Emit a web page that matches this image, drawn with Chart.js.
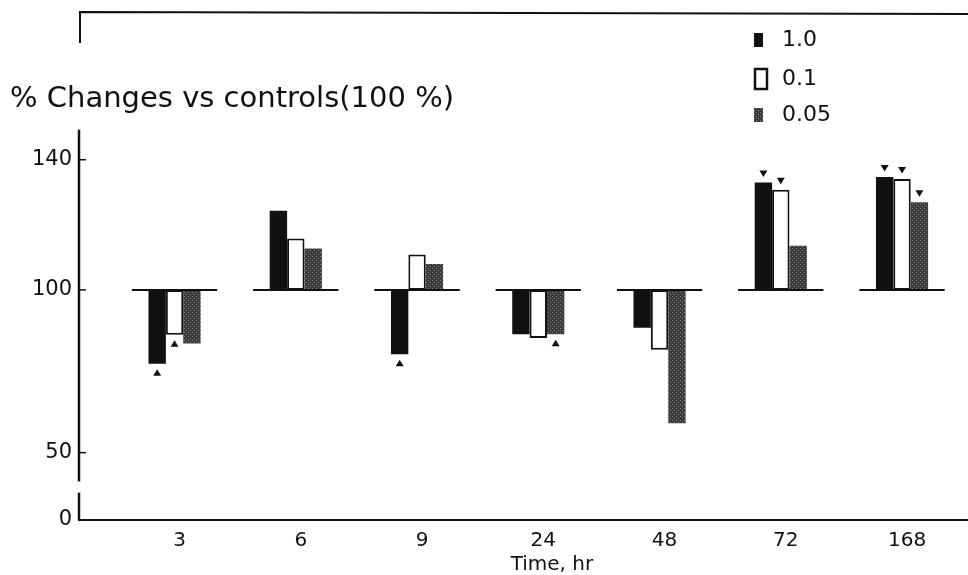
<!DOCTYPE html>
<html><head><meta charset="utf-8">
<script src="https://cdn.jsdelivr.net/npm/chart.js@4/dist/chart.umd.min.js"></script>
<style>html,body{margin:0;padding:0;background:#fff;}#wrap{width:968px;height:575px;}</style>
</head><body><div id="wrap"><canvas id="c" width="968" height="575"></canvas></div>
<script>
// ---- data ----
const categories = ['3', '6', '9', '24', '48', '72', '168'];
const seriesLabels = ['1.0', '0.1', '0.05'];
const values10  = [77.3, 124.3, 80.2, 86.4, 88.4, 133.0, 134.7];
const values01  = [86.2, 115.8, 110.9, 85.2, 81.6, 130.8, 134.1];
const values005 = [83.5, 112.7, 108.0, 86.4, 59.0, 113.6, 126.9];
const sig10  = [1, 0, 1, 0, 0, 1, 1];
const sig01  = [1, 0, 0, 0, 0, 1, 1];
const sig005 = [0, 0, 0, 1, 0, 0, 1];
const yTickValues = [50, 100, 140];
const yBreakLabel = '0';
const baseValue = 100;
const xTitle = 'Time, hr';
const yTitle = '% Changes vs controls(100 %)';

// ---- styles ----
const FONT = 'DejaVu Sans';
const INK = '#111111';
const canvas = document.getElementById('c');
const mainCtx = canvas.getContext('2d');
function stipple() {
  const c = document.createElement('canvas'); c.width = 4; c.height = 4;
  const g = c.getContext('2d');
  g.fillStyle = '#3a3a3a'; g.fillRect(0, 0, 4, 4);
  g.fillStyle = '#8a8a8a'; g.fillRect(0, 0, 1, 1); g.fillRect(2, 2, 1, 1);
  return mainCtx.createPattern(c, 'repeat');
}
const stip = stipple();

const toBars = vals => vals.map((v, i) => ({ x: i, y: [baseValue, v] }));
const seriesValues = [values10, values01, values005];
const seriesSig = [sig10, sig01, sig005];
const seriesFill = [INK, '#ffffff', stip];
const seriesBorder = [INK, INK, '#2a2a2a'];
const seriesBorderW = [0, 2, 0];

const decor = {
  id: 'decor',
  afterDatasetsDraw(chart) {
    const { ctx, chartArea: a, scales: { x, y } } = chart;
    ctx.save();
    // baseline segments at 100 per group
    ctx.strokeStyle = INK; ctx.lineWidth = 2;
    const y100 = y.getPixelForValue(baseValue);
    categories.forEach((c, i) => {
      ctx.beginPath();
      ctx.moveTo(x.getPixelForValue(i - 0.352), y100);
      ctx.lineTo(x.getPixelForValue(i + 0.352), y100);
      ctx.stroke();
    });
    // significance triangles, pointing toward the bar end
    ctx.fillStyle = INK;
    chart.data.datasets.forEach((ds, d) => {
      const meta = chart.getDatasetMeta(d);
      meta.data.forEach((bar, i) => {
        if (!seriesSig[d][i]) return;
        const v = seriesValues[d][i];
        const up = v >= baseValue;
        const end = y.getPixelForValue(v);
        const cx = bar.x;
        const cy = up ? end - 9 : end + 9;
        ctx.beginPath();
        if (up) { ctx.moveTo(cx - 4, cy - 3); ctx.lineTo(cx + 4, cy - 3); ctx.lineTo(cx, cy + 3.5); }
        else { ctx.moveTo(cx - 4, cy + 3); ctx.lineTo(cx + 4, cy + 3); ctx.lineTo(cx, cy - 3.5); }
        ctx.closePath(); ctx.fill();
      });
    });
    ctx.restore();
  },
  afterDraw(chart) {
    const { ctx, chartArea: a, scales: { x, y } } = chart;
    ctx.save();
    ctx.strokeStyle = INK;
    // top frame line
    ctx.lineWidth = 2;
    ctx.beginPath(); ctx.moveTo(a.left + 1, 43); ctx.lineTo(a.left + 1, 12); ctx.lineTo(chart.width, 14); ctx.stroke();
    // y axis with break
    ctx.lineWidth = 2.5;
    const bTop = y.getPixelForValue(41.1), bBot = y.getPixelForValue(37.7);
    ctx.beginPath(); ctx.moveTo(a.left, a.top); ctx.lineTo(a.left, bTop); ctx.stroke();
    ctx.beginPath(); ctx.moveTo(a.left, bBot); ctx.lineTo(a.left, a.bottom); ctx.stroke();
    // inward tick marks
    ctx.lineWidth = 1.5;
    yTickValues.forEach(v => {
      const py = y.getPixelForValue(v);
      ctx.beginPath(); ctx.moveTo(a.left, py); ctx.lineTo(a.left + 7, py); ctx.stroke();
    });
    // x axis title
    ctx.fillStyle = INK;
    ctx.font = '20px "' + FONT + '"';
    ctx.textAlign = 'center'; ctx.textBaseline = 'middle';
    ctx.fillText(xTitle, a.left + (a.right - a.left) * 0.532, 565);
    // legend
    const lx = 754, tx = 782, rows = [40, 79, 115];
    ctx.font = '22px "' + FONT + '"';
    ctx.textAlign = 'left';
    chart.data.datasets.forEach((ds, d) => {
      const ry = rows[d];
      if (d === 1) {
        ctx.fillStyle = '#fff'; ctx.lineWidth = 2.5;
        ctx.fillRect(lx + 1, ry - 10, 12, 20); ctx.strokeRect(lx + 1, ry - 10, 12, 20);
      } else {
        ctx.fillStyle = ds.backgroundColor; ctx.fillRect(lx, ry - 7, 9, 14);
      }
      ctx.fillStyle = INK;
      ctx.fillText(ds.label, tx, ry);
    });
    ctx.restore();
  }
};

new Chart(canvas, {
  type: 'bar',
  data: {
    datasets: seriesLabels.map((lab, d) => ({
      label: lab,
      data: toBars(seriesValues[d]),
      backgroundColor: seriesFill[d],
      borderColor: seriesBorder[d],
      borderWidth: seriesBorderW[d],
      borderSkipped: false,
      categoryPercentage: 0.43,
      barPercentage: 1.0
    }))
  },
  options: {
    responsive: false,
    animation: false,
    devicePixelRatio: 1,
    layout: { padding: { left: 10, right: 0, top: 0, bottom: 0 } },
    plugins: {
      legend: { display: false },
      tooltip: { enabled: false },
      title: {
        display: true, text: yTitle, align: 'start', color: INK,
        font: { family: FONT, size: 29, weight: 'normal' },
        padding: { top: 82, bottom: 13 }
      }
    },
    scales: {
      x: {
        type: 'linear', min: -0.788, max: 6.544, offset: false,
        grid: { display: false, drawTicks: false, offset: false },
        border: { display: true, color: INK, width: 2 },
        afterBuildTicks: s => { s.ticks = categories.map((c, i) => ({ value: i })); },
        afterFit: s => { s.height = 55; },
        ticks: {
          autoSkip: false, maxRotation: 0, padding: 9, labelOffset: 5, color: INK,
          font: { family: FONT, size: 20 },
          callback: v => categories[v]
        }
      },
      y: {
        type: 'linear', min: 29.3, max: 149.2,
        grid: { display: false, drawTicks: false },
        border: { display: false },
        afterBuildTicks: s => { s.ticks = [{ value: s.min }].concat(yTickValues.map(v => ({ value: v }))); },
        afterFit: s => { s.width = 69; },
        ticks: {
          padding: 7, color: INK,
          font: { family: FONT, size: 21 },
          callback: function (v) { return v === this.min ? yBreakLabel : String(v); }
        }
      }
    }
  },
  plugins: [decor]
});
</script>
</body></html>
